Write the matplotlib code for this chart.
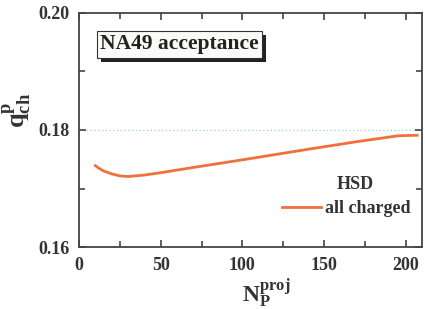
import matplotlib
matplotlib.use("Agg")
import matplotlib.pyplot as plt
from matplotlib.patches import Rectangle
from matplotlib.ticker import MultipleLocator

# data
npart = [10, 12, 15, 20, 25, 30, 40, 50, 70, 100, 140, 170, 195, 200, 207]
q_ch = [0.1739, 0.1735, 0.1730, 0.1725, 0.17215, 0.17205, 0.1723, 0.1727,
        0.1736, 0.1749, 0.1767, 0.1780, 0.1790, 0.17905, 0.1791]
ref_level = 0.18
xticks = [0, 50, 100, 150, 200]
yticks = [0.16, 0.18, 0.20]
ytick_labels = ["0.16", "0.18", "0.20"]

plt.rcParams['font.family'] = 'Liberation Serif'
plt.rcParams['font.weight'] = 'bold'
plt.rcParams['mathtext.fontset'] = 'custom'
plt.rcParams['mathtext.rm'] = 'Liberation Serif:bold'
plt.rcParams['mathtext.bf'] = 'Liberation Serif:bold'
plt.rcParams['mathtext.it'] = 'Liberation Serif:bold'

fig = plt.figure(figsize=(4.25, 3.09), dpi=100)
ax = fig.add_axes([0.186, 0.2006, 0.807, 0.7574])

spine_c = '#444444'
for s in ax.spines.values():
    s.set_color(spine_c)
    s.set_linewidth(1.3)

ax.axhline(ref_level, color='#9fcfd0', lw=0.9, ls=(0, (1, 2)), zorder=1)
ax.plot(npart, q_ch, color='#f0703c', lw=2.0, label='all charged', zorder=3)

ax.set_xlim(0, 210)
ax.set_ylim(0.16, 0.20)
ax.set_xticks(xticks)
ax.set_yticks(yticks)
ax.set_yticklabels(ytick_labels)
ax.xaxis.set_minor_locator(MultipleLocator(25))
ax.yaxis.set_minor_locator(MultipleLocator(0.01))
ax.tick_params(which='both', direction='in', top=True, right=True,
               color=spine_c, width=1.2, labelsize=13, labelcolor='#333333')
ax.tick_params(which='major', length=5, pad=7)
ax.tick_params(which='minor', length=4)
ax.tick_params(axis='x', which='major', pad=7)

ax.set_xlabel(r'$\mathbf{N_{P}^{proj}}$', fontsize=17, color='#333333')
ax.xaxis.set_label_coords(0.545, -0.125, transform=ax.transAxes)
ax.xaxis.label.set_va('top')
ax.set_ylabel(r'$\mathbf{q^{p}_{ch}}$', fontsize=19, color='#333333')
ax.yaxis.set_label_coords(-0.135, 0.585, transform=ax.transAxes)

# text box with shadow
tx, ty = 0.293, 0.866
box = ax.text(tx, ty, 'NA49 acceptance', transform=ax.transAxes, fontsize=15.5,
              fontweight='bold', color='#222222', ha='center', va='center',
              bbox=dict(boxstyle='square,pad=0.15', fc='#fafaf8', ec='#333333', lw=0.8),
              zorder=6)
fig.canvas.draw()
bb = box.get_bbox_patch().get_window_extent(fig.canvas.get_renderer())
off = 4
shadow = Rectangle((bb.x0 + off, bb.y0 - off), bb.width, bb.height,
                   fc='#222222', ec='none', zorder=4)
ax.add_patch(shadow)
shadow.set_transform(matplotlib.transforms.IdentityTransform())
shadow.set_clip_on(False)

ax.text(0.805, 0.265, 'HSD', transform=ax.transAxes, fontsize=13,
        fontweight='bold', color='#333333', ha='center', va='center')
leg = ax.legend(loc='lower right', bbox_to_anchor=(0.998, 0.08),
                frameon=False, fontsize=13, handlelength=2.2,
                handletextpad=0.2, borderpad=0.1, labelspacing=0.2)
for t in leg.get_texts():
    t.set_color('#333333')

fig.savefig('out.png', dpi=100)
